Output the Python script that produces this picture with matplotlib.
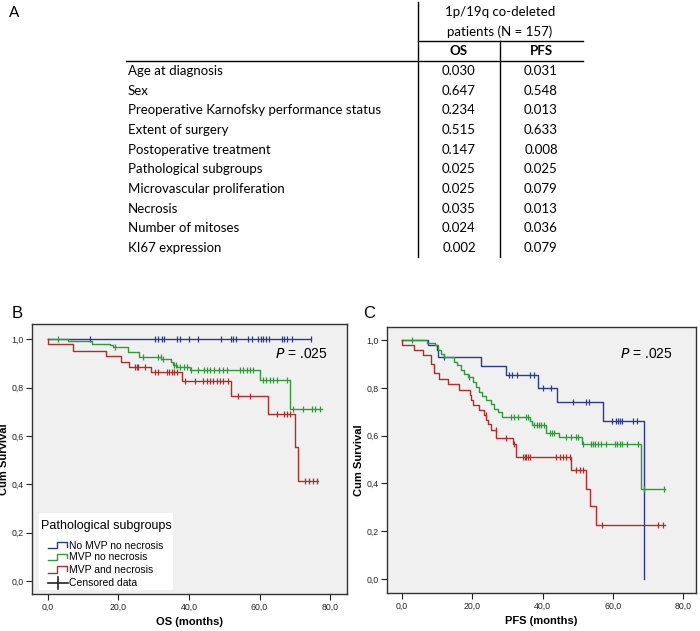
import numpy as np
import matplotlib
matplotlib.use("Agg")
import matplotlib.pyplot as plt

# ---- table (panel A) ----
row_names = ["Age at diagnosis", "Sex", "Preoperative Karnofsky performance status",
             "Extent of surgery", "Postoperative treatment", "Pathological subgroups",
             "Microvascular proliferation", "Necrosis", "Number of mitoses", "KI67 expression"]
os_p = ["0.030", "0.647", "0.234", "0.515", "0.147", "0.025", "0.025", "0.035", "0.024", "0.002"]
pfs_p = ["0.031", "0.548", "0.013", "0.633", "0.008", "0.025", "0.079", "0.013", "0.036", "0.079"]

# ---- Kaplan-Meier curves, OS (panel B) ----
groups = ["No MVP no necrosis", "MVP no necrosis", "MVP and necrosis"]
colors = ["#2b3a8a", "#2e9a3a", "#b52a2a"]

os_blue_t = []
os_blue_s = []
os_blue_end = 74.6
os_blue_cens = [11.9, 30.4, 31.3, 32.3, 32.9, 36.5, 37.4, 40.1, 42.6, 49.1, 51.9, 52.6, 53.4,
                56.8, 57.8, 59.7, 60.4, 61.1, 61.8, 62.8, 66.3, 67.0, 67.7, 69.1, 74.6]

os_green_t = [5.8, 12.4, 17.7, 18.5, 22.8, 25.9, 32.2, 34.9, 35.5, 36.5, 40.4, 60.0, 68.5]
os_green_s = [0.991, 0.982, 0.976, 0.966, 0.949, 0.928, 0.917, 0.905, 0.895, 0.885, 0.872, 0.832, 0.713]
os_green_end = 77.6
os_green_cens = [2.9, 18.9, 27.0, 31.3, 32.0, 32.7, 35.7, 36.3, 37.4, 38.6, 39.5, 40.7, 42.6, 44.3,
                 45.2, 46.1, 47.1, 48.6, 49.6, 50.7, 54.5, 55.4, 56.4, 57.3, 58.2, 60.9, 61.8,
                 63.0, 63.9, 64.9, 67.7, 69.4, 72.3, 74.8, 75.7, 77.2]

os_red_t = [0.0, 7.2, 16.6, 20.7, 23.1, 29.1, 37.9, 51.8, 62.3, 70.1, 71.0]
os_red_s = [0.979, 0.953, 0.931, 0.907, 0.887, 0.863, 0.829, 0.767, 0.691, 0.553, 0.415]
os_red_end = 76.7
os_red_cens = [24.7, 25.2, 25.6, 27.5, 30.4, 31.3, 33.7, 34.4, 35.1, 35.7, 36.5, 38.9, 41.7,
               44.1, 45.0, 46.0, 46.9, 47.9, 48.8, 49.7, 51.0, 54.0, 57.3, 64.9, 66.8, 67.7,
               68.7, 72.9, 74.1, 75.3, 76.4]

# ---- Kaplan-Meier curves, PFS (panel C) ----
pfs_blue_t = [7.4, 10.0, 10.3, 22.5, 29.6, 38.8, 44.2, 57.2, 68.7]
pfs_blue_s = [0.979, 0.960, 0.930, 0.891, 0.855, 0.802, 0.742, 0.660, 0.0]
pfs_blue_end = 68.7
pfs_blue_cens = [12.0, 30.5, 31.3, 32.8, 36.5, 37.5, 40.0, 42.5, 48.6, 52.4, 53.1, 59.7, 60.8,
                 61.4, 61.9, 62.6, 65.7, 66.7]

pfs_green_t = [7.3, 9.5, 10.4, 11.2, 12.0, 14.9, 15.8, 16.8, 17.7, 18.7, 20.1, 21.0, 22.0, 22.9,
               23.9, 25.4, 26.3, 27.3, 28.5, 36.4, 37.1, 41.0, 44.8, 51.2, 67.9]
pfs_green_s = [0.989, 0.979, 0.958, 0.944, 0.930, 0.909, 0.895, 0.874, 0.860, 0.846, 0.825, 0.804,
               0.783, 0.766, 0.749, 0.732, 0.714, 0.700, 0.678, 0.661, 0.645, 0.612, 0.595, 0.567,
               0.377]
pfs_green_end = 74.8
pfs_green_cens = [3.0, 19.2, 31.0, 32.0, 33.0, 35.3, 35.8, 37.7, 38.3, 38.9, 39.6, 40.3, 42.0,
                  42.6, 43.2, 46.7, 48.1, 49.6, 50.2, 51.5, 53.9, 54.3, 54.8, 55.7, 56.7, 58.1,
                  60.5, 61.1, 61.9, 62.7, 64.0, 67.1, 68.8, 74.5]

pfs_red_t = [0.0, 3.5, 5.9, 8.3, 9.2, 10.5, 13.0, 16.3, 19.3, 19.6, 20.3, 22.0, 23.4, 24.0, 24.6,
             25.4, 26.9, 31.5, 32.5, 48.1, 52.4, 53.4, 55.1]
pfs_red_s = [0.979, 0.958, 0.937, 0.902, 0.863, 0.840, 0.819, 0.791, 0.770, 0.749, 0.728, 0.707,
             0.686, 0.665, 0.651, 0.623, 0.590, 0.566, 0.509, 0.457, 0.379, 0.305, 0.228]
pfs_red_end = 74.8
pfs_red_cens = [23.9, 26.8, 29.6, 31.8, 34.4, 34.9, 35.4, 35.9, 36.3, 43.9, 44.9, 45.8, 46.8, 47.7,
                49.6, 50.6, 51.5, 56.9, 72.9, 74.3]

os_curves = [(os_blue_t, os_blue_s, os_blue_end, os_blue_cens),
             (os_green_t, os_green_s, os_green_end, os_green_cens),
             (os_red_t, os_red_s, os_red_end, os_red_cens)]
pfs_curves = [(pfs_blue_t, pfs_blue_s, pfs_blue_end, pfs_blue_cens),
              (pfs_green_t, pfs_green_s, pfs_green_end, pfs_green_cens),
              (pfs_red_t, pfs_red_s, pfs_red_end, pfs_red_cens)]

xticks = [0, 20, 40, 60, 80]
yticks = [0.0, 0.2, 0.4, 0.6, 0.8, 1.0]

plt.rcParams['font.family'] = ['Liberation Sans', 'DejaVu Sans']

fig = plt.figure(figsize=(7, 6.31), dpi=100)


def surv_at(ev_t, ev_s, c):
    i = np.searchsorted(ev_t, c, side='right')
    return 1.0 if i == 0 else ev_s[i - 1]


def km_panel(ax, curves, xlabel, xlim, ylim, p_x, p_y):
    ax.set_facecolor('#f0f0f0')
    for (ev_t, ev_s, end, cens), col in zip(curves, colors):
        t = [0.0] + list(ev_t) + [end]
        s = [1.0] + list(ev_s) + [ev_s[-1] if ev_s else 1.0]
        ax.step(t, s, where='post', color=col, lw=1.0)
        cy = [surv_at(np.array(ev_t), ev_s, c) for c in cens]
        ax.plot(cens, cy, ls='none', marker='|', ms=5, mew=0.9, color=col)
    ax.set_xlim(*xlim)
    ax.set_ylim(*ylim)
    ax.set_xticks(xticks)
    ax.set_xticklabels([f"{v:.1f}".replace('.', ',') for v in xticks])
    ax.set_yticks(yticks)
    ax.set_yticklabels([f"{v:.1f}".replace('.', ',') for v in yticks])
    ax.tick_params(labelsize=6.3, colors='#222222', length=4, width=0.8, direction='out', pad=2)
    ax.set_xlabel(xlabel, fontsize=8, fontweight='bold', labelpad=4)
    ax.set_ylabel("Cum Survival", fontsize=8, fontweight='bold', labelpad=2)
    for sp in ax.spines.values():
        sp.set_color('#333333')
        sp.set_linewidth(1.0)
    ax.text(p_x, p_y, "$\\it{P}$ = .025", transform=ax.transAxes, ha='right',
            va='center', fontsize=10)


W, H = 700.0, 631.0
axB = fig.add_axes([32 / W, 1 - 594 / H, 315 / W, 270 / H])
km_panel(axB, os_curves, "OS (months)", (-4.5, 84.8), (-0.054, 1.063), 0.94, 0.89)
axC = fig.add_axes([387 / W, 1 - 593 / H, 309 / W, 266 / H])
km_panel(axC, pfs_curves, "PFS (months)", (-4.2, 83.6), (-0.059, 1.056), 0.925, 0.90)

# legend box in panel B
axB.add_patch(plt.Rectangle((0.022, 0.015), 0.426, 0.285, transform=axB.transAxes,
                            facecolor='white', edgecolor='none', zorder=3))
axB.text(0.029, 0.252, "Pathological subgroups", transform=axB.transAxes, fontsize=9,
         va='center', zorder=4)
ent_y = [0.179, 0.136, 0.089, 0.042]
for yy, col, name in zip(ent_y, colors + ['#222222'], groups + ["Censored data"]):
    if name == "Censored data":
        axB.plot([0.050, 0.113], [yy, yy], transform=axB.transAxes, color=col, lw=1.2, zorder=4)
        axB.plot([0.081, 0.081], [yy - 0.022, yy + 0.022], transform=axB.transAxes,
                 color=col, lw=1.2, zorder=4)
    else:
        axB.plot([0.050, 0.080, 0.080, 0.110, 0.110], [yy - 0.01, yy - 0.01, yy + 0.014,
                 yy + 0.014, yy - 0.004], transform=axB.transAxes, color=col, lw=1.0, zorder=4)
    axB.text(0.118, yy, name, transform=axB.transAxes, fontsize=7.5, va='center', zorder=4)

fig.text(12 / W, 1 - 313 / H, "B", fontsize=12, va='center', ha='left')
fig.text(363 / W, 1 - 313 / H, "C", fontsize=12, va='center', ha='left')

# ---- table A ----
axA = fig.add_axes([0, 1 - 270 / H, 1, 270 / H])
axA.set_xlim(0, W)
axA.set_ylim(270, 0)
axA.axis('off')
tf = ['Lato', 'DejaVu Sans']
axA.text(9, 13, "A", fontsize=11, va='center', family=tf)
axA.text(500, 12, "1p/19q co-deleted", ha='center', va='center', fontsize=9.5, family=tf)
axA.text(500, 32, "patients (N = 157)", ha='center', va='center', fontsize=9.5, family=tf)
axA.text(459, 51, "OS", ha='center', va='center', fontsize=9.5, fontweight='bold', family=tf)
axA.text(541, 51, "PFS", ha='center', va='center', fontsize=9.5, fontweight='bold', family=tf)
row_y = np.linspace(71, 248, len(row_names))
for yy, name, a, b in zip(row_y, row_names, os_p, pfs_p):
    axA.text(128, yy, name, va='center', fontsize=9.5, family=tf)
    axA.text(459, yy, a, ha='center', va='center', fontsize=9.5, family=tf)
    axA.text(541, yy, b, ha='center', va='center', fontsize=9.5, family=tf)
axA.plot([418, 418], [2, 257], color='black', lw=1.0)
axA.plot([500, 500], [41, 257], color='black', lw=1.0)
axA.plot([418, 583], [41, 41], color='black', lw=1.0)
axA.plot([126, 583], [61, 61], color='black', lw=1.0)

fig.savefig("out.png", dpi=100)
